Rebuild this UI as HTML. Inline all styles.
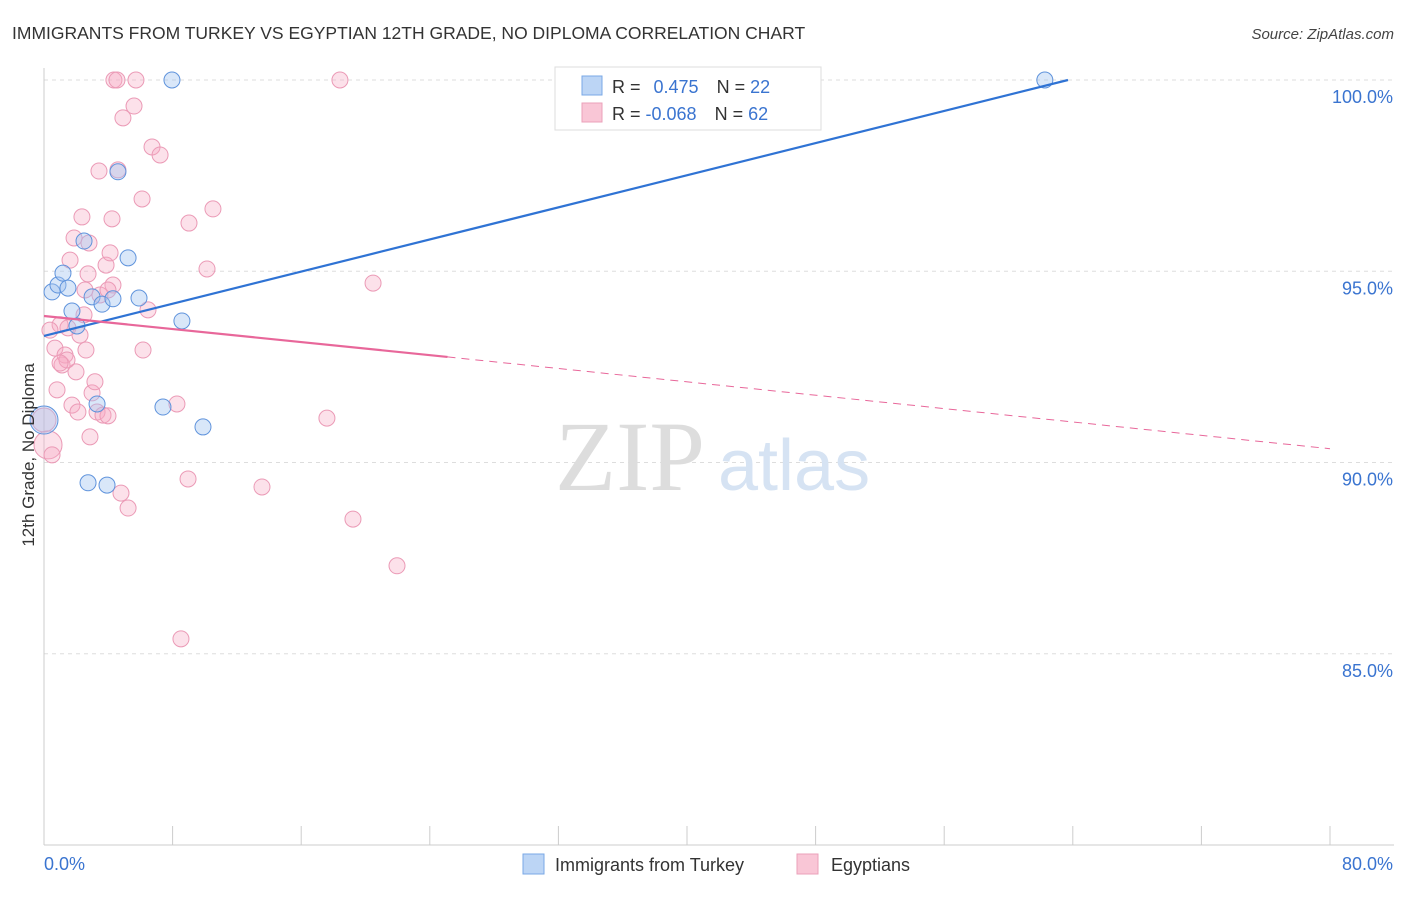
<!DOCTYPE html>
<html><head><meta charset="utf-8"><style>
body{margin:0;background:#fff;font-family:"Liberation Sans",sans-serif}
</style></head><body>
<svg id="chart" width="1406" height="892" xmlns="http://www.w3.org/2000/svg" font-family="Liberation Sans, sans-serif">
<text x="12" y="39" font-size="17.5" fill="#333">IMMIGRANTS FROM TURKEY VS EGYPTIAN 12TH GRADE, NO DIPLOMA CORRELATION CHART</text>
<text x="1394" y="39" font-size="15" fill="#444" text-anchor="end" font-style="italic">Source: ZipAtlas.com</text>
<g id="grid"></g>
<g><text x="555" y="490" font-size="100" fill="#ddd" font-family="Liberation Serif, serif">ZIP</text><text x="718" y="490" font-size="72" fill="#d6e3f3">atlas</text></g>
<g id="axes"></g>
<g id="marks"></g>
<text transform="translate(34,455) rotate(-90)" font-size="17" fill="#333" text-anchor="middle">12th Grade, No Diploma</text>
<g>
<rect x="555" y="67" width="266" height="63" fill="#fff" stroke="#ddd"/>
<rect x="582" y="76" width="20" height="19" fill="#bcd5f5" stroke="#7aa8e6"/>
<rect x="582" y="103" width="20" height="19" fill="#f9c6d6" stroke="#eba0ba"/>
<text x="612" y="93" font-size="18" fill="#333">R =  <tspan fill="#3a74d0" dx="8">0.475</tspan><tspan dx="18" fill="#333">N = </tspan><tspan fill="#3a74d0">22</tspan></text>
<text x="612" y="120" font-size="18" fill="#333">R = <tspan fill="#3a74d0">-0.068</tspan><tspan dx="18" fill="#333">N = </tspan><tspan fill="#3a74d0">62</tspan></text>
</g>
<g>
<rect x="523" y="854" width="21" height="20" fill="#bcd5f5" stroke="#7aa8e6"/>
<text x="555" y="871" font-size="18" fill="#333">Immigrants from Turkey</text>
<rect x="797" y="854" width="21" height="20" fill="#f9c6d6" stroke="#eba0ba"/>
<text x="831" y="871" font-size="18" fill="#333">Egyptians</text>
</g>
</svg>
<script>
const xTicks=[0,8,16,24,32,40,48,56,64,72,80];
const yTicks=[85,90,95,100];
const yTickLabels=["85.0%","90.0%","95.0%","100.0%"];
const xEndLabels=["0.0%","80.0%"];
const blueX=[0,0.5,0.87,1.18,1.49,1.74,2.49,2.99,3.30,3.61,4.29,4.60,5.23,5.91,7.40,7.96,8.58,9.89,2.74,3.92,62.26,2.05];
const blueY=[91.11,94.46,94.64,94.95,94.56,93.96,95.79,94.33,91.53,94.14,94.28,97.60,95.35,94.30,91.45,100,93.70,90.93,89.47,89.41,100,93.57];
const blueR=[14,8,8,8,8,8,8,8,8,8,8,8,8,8,8,8,8,8,8,8,8,8];
const pinkX=[0,0.25,0.5,0.68,0.81,1.0,1.12,1.31,1.49,1.62,1.74,1.87,1.99,2.11,2.24,2.36,2.49,2.61,2.74,2.80,2.86,2.99,3.17,3.30,3.42,3.48,3.67,3.86,3.98,4.11,4.23,4.29,4.35,4.54,4.60,4.79,4.91,5.23,5.60,5.72,6.10,6.16,6.47,6.72,7.22,8.27,8.52,8.96,9.02,10.14,10.51,13.56,17.60,18.41,19.22,20.47,21.96,1.43,2.55,3.98,0.37,1.0];
const pinkY=[91.11,90.46,90.20,92.99,91.90,93.60,92.55,92.81,93.52,95.29,91.50,95.87,92.37,91.32,93.33,96.42,93.86,92.94,94.93,95.74,90.67,91.82,92.11,91.32,97.62,94.38,91.24,95.16,91.22,95.48,96.37,94.64,100,100,97.65,89.20,99.01,88.81,99.32,100,96.89,92.94,93.99,98.25,98.04,91.53,85.39,89.57,96.26,95.06,96.63,89.36,91.16,100,88.52,94.69,87.30,92.68,94.51,94.51,93.46,92.60];
const pinkR=[12,14,8,8,8,8,8,8,8,8,8,8,8,8,8,8,8,8,8,8,8,8,8,8,8,8,8,8,8,8,8,8,8,8,8,8,8,8,8,8,8,8,8,8,8,8,8,8,8,8,8,8,8,8,8,8,8,8,8,8,8,8];
const blueLine=[[0,93.31],[63.7,100]];
const pinkSolid=[[0,93.83],[25.1,92.76]];
const pinkDash=[[25.1,92.76],[80,90.36]];
const NS="http://www.w3.org/2000/svg";
const sx=v=>44+v/80*1286, sy=v=>80+(100-v)/20*765;
function mk(t,a,p){const e=document.createElementNS(NS,t);for(const k in a)e.setAttribute(k,a[k]);p.appendChild(e);return e;}
const grid=document.getElementById('grid'),axes=document.getElementById('axes'),marks=document.getElementById('marks');
yTicks.forEach((v,i)=>{const l=mk('line',{x1:44,x2:1394,y1:sy(v),y2:sy(v),stroke:'#ddd','stroke-dasharray':'4,4'},grid);


const t=mk('text',{x:1393,y:sy(v)+23,'font-size':18,fill:'#3a74d0','text-anchor':'end'},axes);t.textContent=yTickLabels[i];

});
const ax=mk('line',{x1:44,x2:1394,y1:845,y2:845,stroke:'#ccc'},axes);


const ay=mk('line',{x1:44,x2:44,y1:68,y2:845,stroke:'#ccc'},axes);


xTicks.forEach(v=>{const t=mk('line',{x1:sx(v),x2:sx(v),y1:826,y2:845,stroke:'#ccc'},axes);

});
[[0,'start'],[80,'end']].forEach((p,i)=>{const t=mk('text',{x:i?1393:44,y:870,'font-size':18,fill:'#3a74d0','text-anchor':p[1]},axes);t.textContent=xEndLabels[i];

});
pinkX.forEach((x,i)=>{const c=mk('circle',{cx:sx(x),cy:sy(pinkY[i]),r:pinkR[i],fill:'rgba(245,170,196,0.35)',stroke:'#eb9ab6','stroke-width':1},marks);

});
blueX.forEach((x,i)=>{const c=mk('circle',{cx:sx(x),cy:sy(blueY[i]),r:blueR[i],fill:'rgba(160,195,240,0.4)',stroke:'#5f93dc','stroke-width':1},marks);

});
function ln(p,st,w,dash,name){const l=mk('line',{x1:sx(p[0][0]),y1:sy(p[0][1]),x2:sx(p[1][0]),y2:sy(p[1][1]),stroke:st,'stroke-width':w},marks);if(dash)l.setAttribute('stroke-dasharray',dash);

}
ln(blueLine,'#2f73d4',2.2,null,'turkey-trend-line');
ln(pinkSolid,'#e8679a',2.2,null,'egyptians-trend-line');
ln(pinkDash,'#e8679a',1,'8,6','egyptians-trend-extension');
</script>
</body></html>
